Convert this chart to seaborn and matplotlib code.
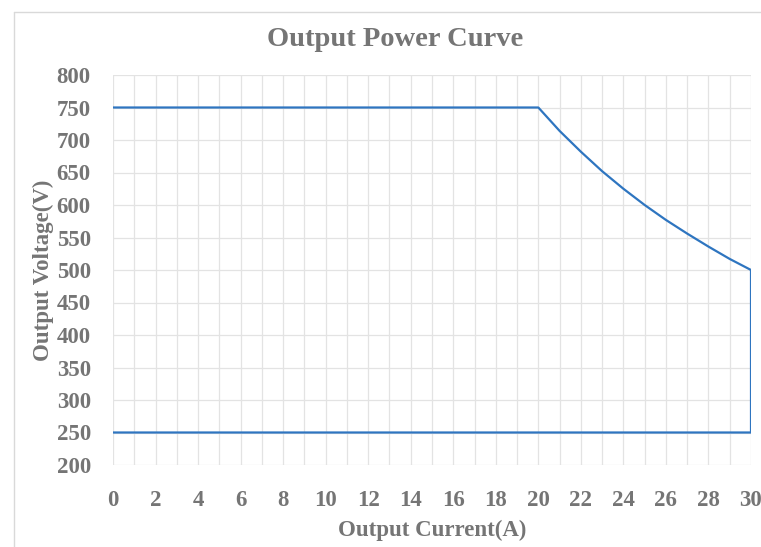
import matplotlib
matplotlib.use("Agg")
import matplotlib.pyplot as plt
import seaborn as sns
import pandas as pd
from matplotlib.lines import Line2D

# Data (outline of the operating region)
current_a = [0, 20, 21, 22, 23, 24, 25, 26, 27, 28, 29, 30, 30, 0]
voltage_v = [750, 750, 714, 682, 652, 625, 600, 577, 556, 536, 517, 500, 250, 250]
x_ticks = [0, 2, 4, 6, 8, 10, 12, 14, 16, 18, 20, 22, 24, 26, 28, 30]
y_ticks = [200, 250, 300, 350, 400, 450, 500, 550, 600, 650, 700, 750, 800]

title = "Output Power Curve"
x_label = "Output Current(A)"
y_label = "Output Voltage(V)"

sns.set_theme(style="white")
plt.rcParams['font.family'] = ['Liberation Serif', 'DejaVu Serif']

df = pd.DataFrame({"I": current_a, "V": voltage_v})

fig = plt.figure(figsize=(7.61, 5.47), dpi=100)
ax = fig.add_axes([113/761, 1-465/547, (751-113)/761, (465-75)/547])

sns.lineplot(data=df, x="I", y="V", sort=False, estimator=None, ax=ax,
             color="#2E75C0", linewidth=1.6, zorder=3)

ax.set_xlim(0, 30)
ax.set_ylim(200, 800)
ax.set_xticks(x_ticks)
ax.set_xticks(range(0, 31), minor=True)
ax.set_yticks(y_ticks)
ax.grid(True, which="both", color="#E3E3E3", linewidth=0.9)
ax.set_axisbelow(True)
for s in ax.spines.values():
    s.set_visible(False)

grey = "#757575"
ax.tick_params(axis="both", which="both", length=0, labelsize=16.5, labelcolor=grey)
ax.tick_params(axis="x", pad=18)
ax.tick_params(axis="y", pad=16)
for lab in ax.get_xticklabels() + ax.get_yticklabels():
    lab.set_fontweight("bold")

ax.set_xlabel(x_label, fontsize=16.5, fontweight="bold", color=grey, labelpad=6)
ax.set_ylabel(y_label, fontsize=16.5, fontweight="bold", color=grey, labelpad=2)
fig.text(395/761, 1-40/547, title, fontsize=20.5, fontweight="bold", color=grey,
         ha="center", va="center")

# Outer chart frame (left and top edges visible)
fig.add_artist(Line2D([14/761, 14/761], [0, 1-12/547], color="#D9D9D9", linewidth=1,
                      transform=fig.transFigure))
fig.add_artist(Line2D([14/761, 1], [1-12/547, 1-12/547], color="#D9D9D9", linewidth=1,
                      transform=fig.transFigure))

fig.savefig("out.png", dpi=100)
